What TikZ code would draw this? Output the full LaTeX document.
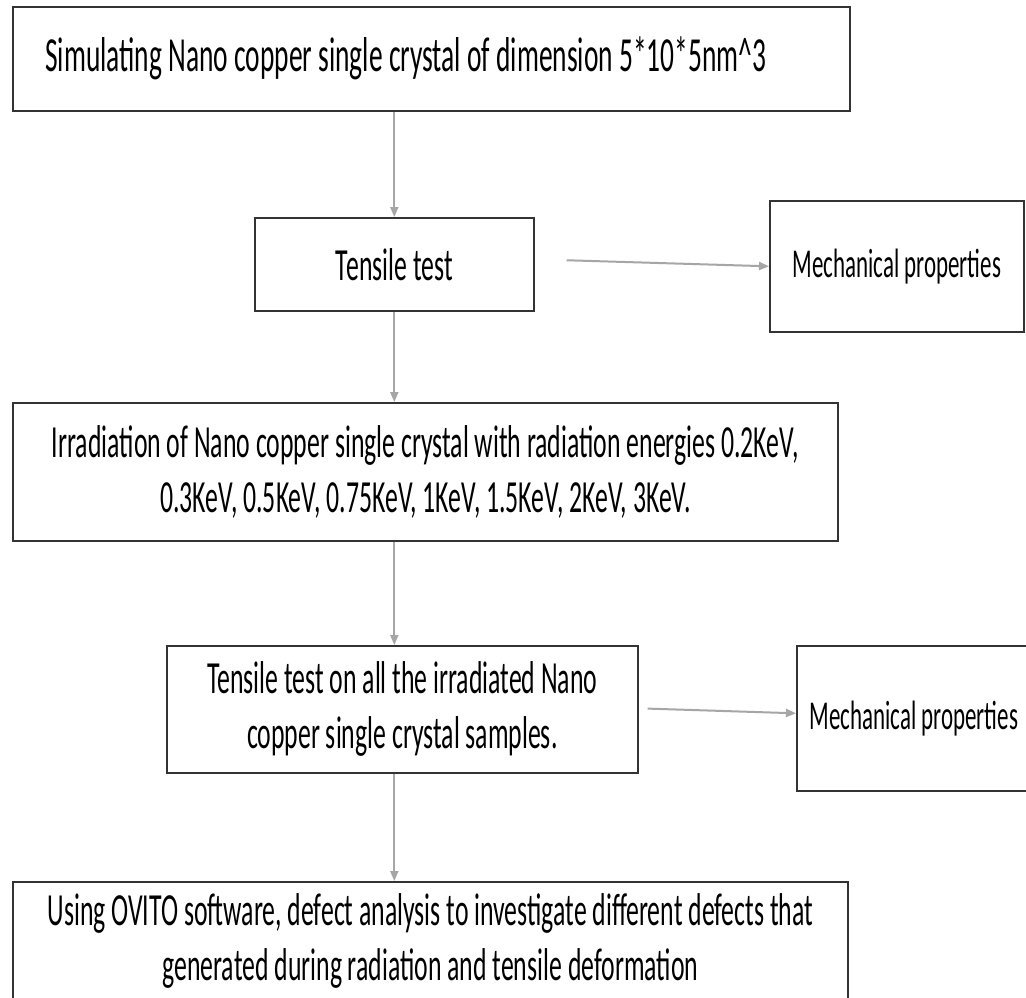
\documentclass[tikz,border=0pt]{standalone}
\usepackage{fontspec}
\setmainfont{Carlito}[FakeStretch=0.56]
\usepackage{tikz}
\usetikzlibrary{arrows.meta, positioning, calc}
\tikzset{
    base/.style={draw=black!80, line width=1.6pt, font=\fontsize{46}{55}\selectfont, align=center, inner sep=0pt, anchor=north west},
    block/.style={base, rectangle, fill=white},
    smallblock/.style={block, font=\fontsize{41}{46}\selectfont},
    line/.style={draw=black!35, line width=2pt, -{Triangle[length=10pt,width=8pt]}}
}

\begin{document}
\begin{tikzpicture}[x=1pt, y=-1pt]
    \clip (0,0) rectangle (1026,997);
    \fill[white] (0,0) rectangle (1026,997);

    \node [block, minimum width=837pt, minimum height=104pt, font=\fontsize{49}{55}\selectfont] (simulate) at (12,6) {Simulating Nano copper single crystal of dimension 5*10*5nm\textasciicircum3\hspace*{51pt}};
    \node [block, minimum width=279pt, minimum height=93pt] (tensile) at (254,217) {Tensile test};
    \node [smallblock, minimum width=254pt, minimum height=131pt] (mechA) at (769,200) {Mechanical properties};
    \node [block, minimum width=825pt, minimum height=138pt] (irrad) at (12,402) {Irradiation of Nano copper single crystal with radiation energies 0.2KeV,\\0.3KeV, 0.5KeV, 0.75KeV, 1KeV, 1.5KeV, 2KeV, 3KeV.};
    \node [block, minimum width=471pt, minimum height=127pt] (tensileB) at (166,645) {Tensile test on all the irradiated Nano\\copper single crystal samples.};
    \node [smallblock, minimum width=234pt, minimum height=145pt] (mechB) at (796,645) {Mechanical properties};
    \node [block, minimum width=835pt, minimum height=119pt] (ovito) at (12,881) {Using OVITO software, defect analysis to investigate different defects that\\generated during radiation and tensile deformation};

    \draw [line] (simulate.south -| tensile.north) -- (tensile.north);
    \draw [line] (tensile.south) -- (tensile.south |- irrad.north);
    \draw [line] (irrad.south -| tensile.south) -- (tensile.south |- tensileB.north);
    \draw [line] (tensileB.south -| tensile.south) -- (tensile.south |- ovito.north);
    \draw [line, shorten <=32pt] ([yshift=5pt]tensile.east) -- ([yshift=-2pt]tensile.east -| mechA.west);
    \draw [line, shorten <=9pt] ([yshift=1pt]tensileB.east) -- ([yshift=-4pt]tensileB.east -| mechB.west);
\end{tikzpicture}
\end{document}
